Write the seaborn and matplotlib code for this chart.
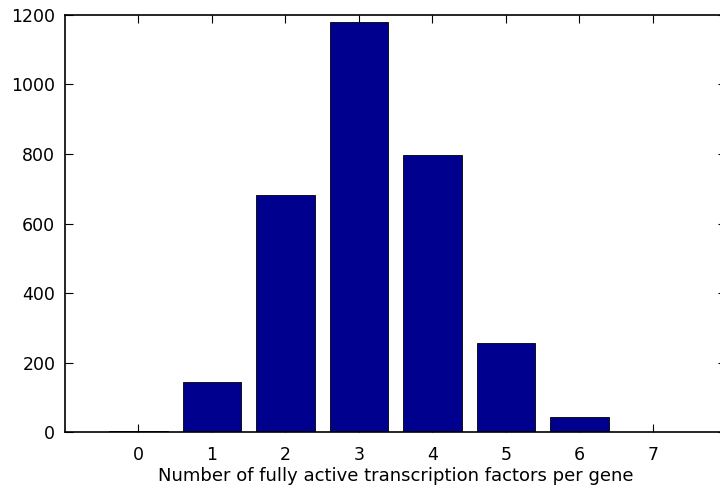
import pandas as pd
import matplotlib
matplotlib.use("Agg")
import matplotlib.pyplot as plt
import seaborn as sns

n_factors = [0, 1, 2, 3, 4, 5, 6, 7]
gene_counts = [5, 144, 683, 1180, 797, 256, 44, 1]

sns.set_style("ticks")
plt.rcParams["font.family"] = ["DejaVu Sans"]
plt.rcParams["text.color"] = "black"
plt.rcParams["xtick.color"] = "black"
plt.rcParams["ytick.color"] = "black"
plt.rcParams["axes.labelcolor"] = "black"

df = pd.DataFrame({"factors": n_factors, "genes": gene_counts})

fig = plt.figure(figsize=(7.2, 4.93), dpi=100)
ax = fig.add_axes([0.0903, 0.123, 0.9185, 0.847])

sns.barplot(
    data=df, x="factors", y="genes", order=n_factors,
    color="#00008f", saturation=1, width=0.8,
    edgecolor="black", linewidth=0.6, ax=ax,
)

ax.set_xlim(-1, 8)
ax.set_ylim(0, 1200)
ax.set_yticks([0, 200, 400, 600, 800, 1000, 1200])
ax.set_xlabel("Number of fully active transcription factors per gene",
              fontsize=13, labelpad=2)
ax.set_ylabel("")
ax.tick_params(direction="in", top=True, right=True, length=6, width=0.8,
               labelsize=12.5)
ax.tick_params(axis="x", pad=10)
ax.tick_params(axis="y", pad=7)
for s in ax.spines.values():
    s.set_linewidth(1.2)
    s.set_color("black")
    s.set_visible(True)

fig.savefig("out.png", dpi=100)
